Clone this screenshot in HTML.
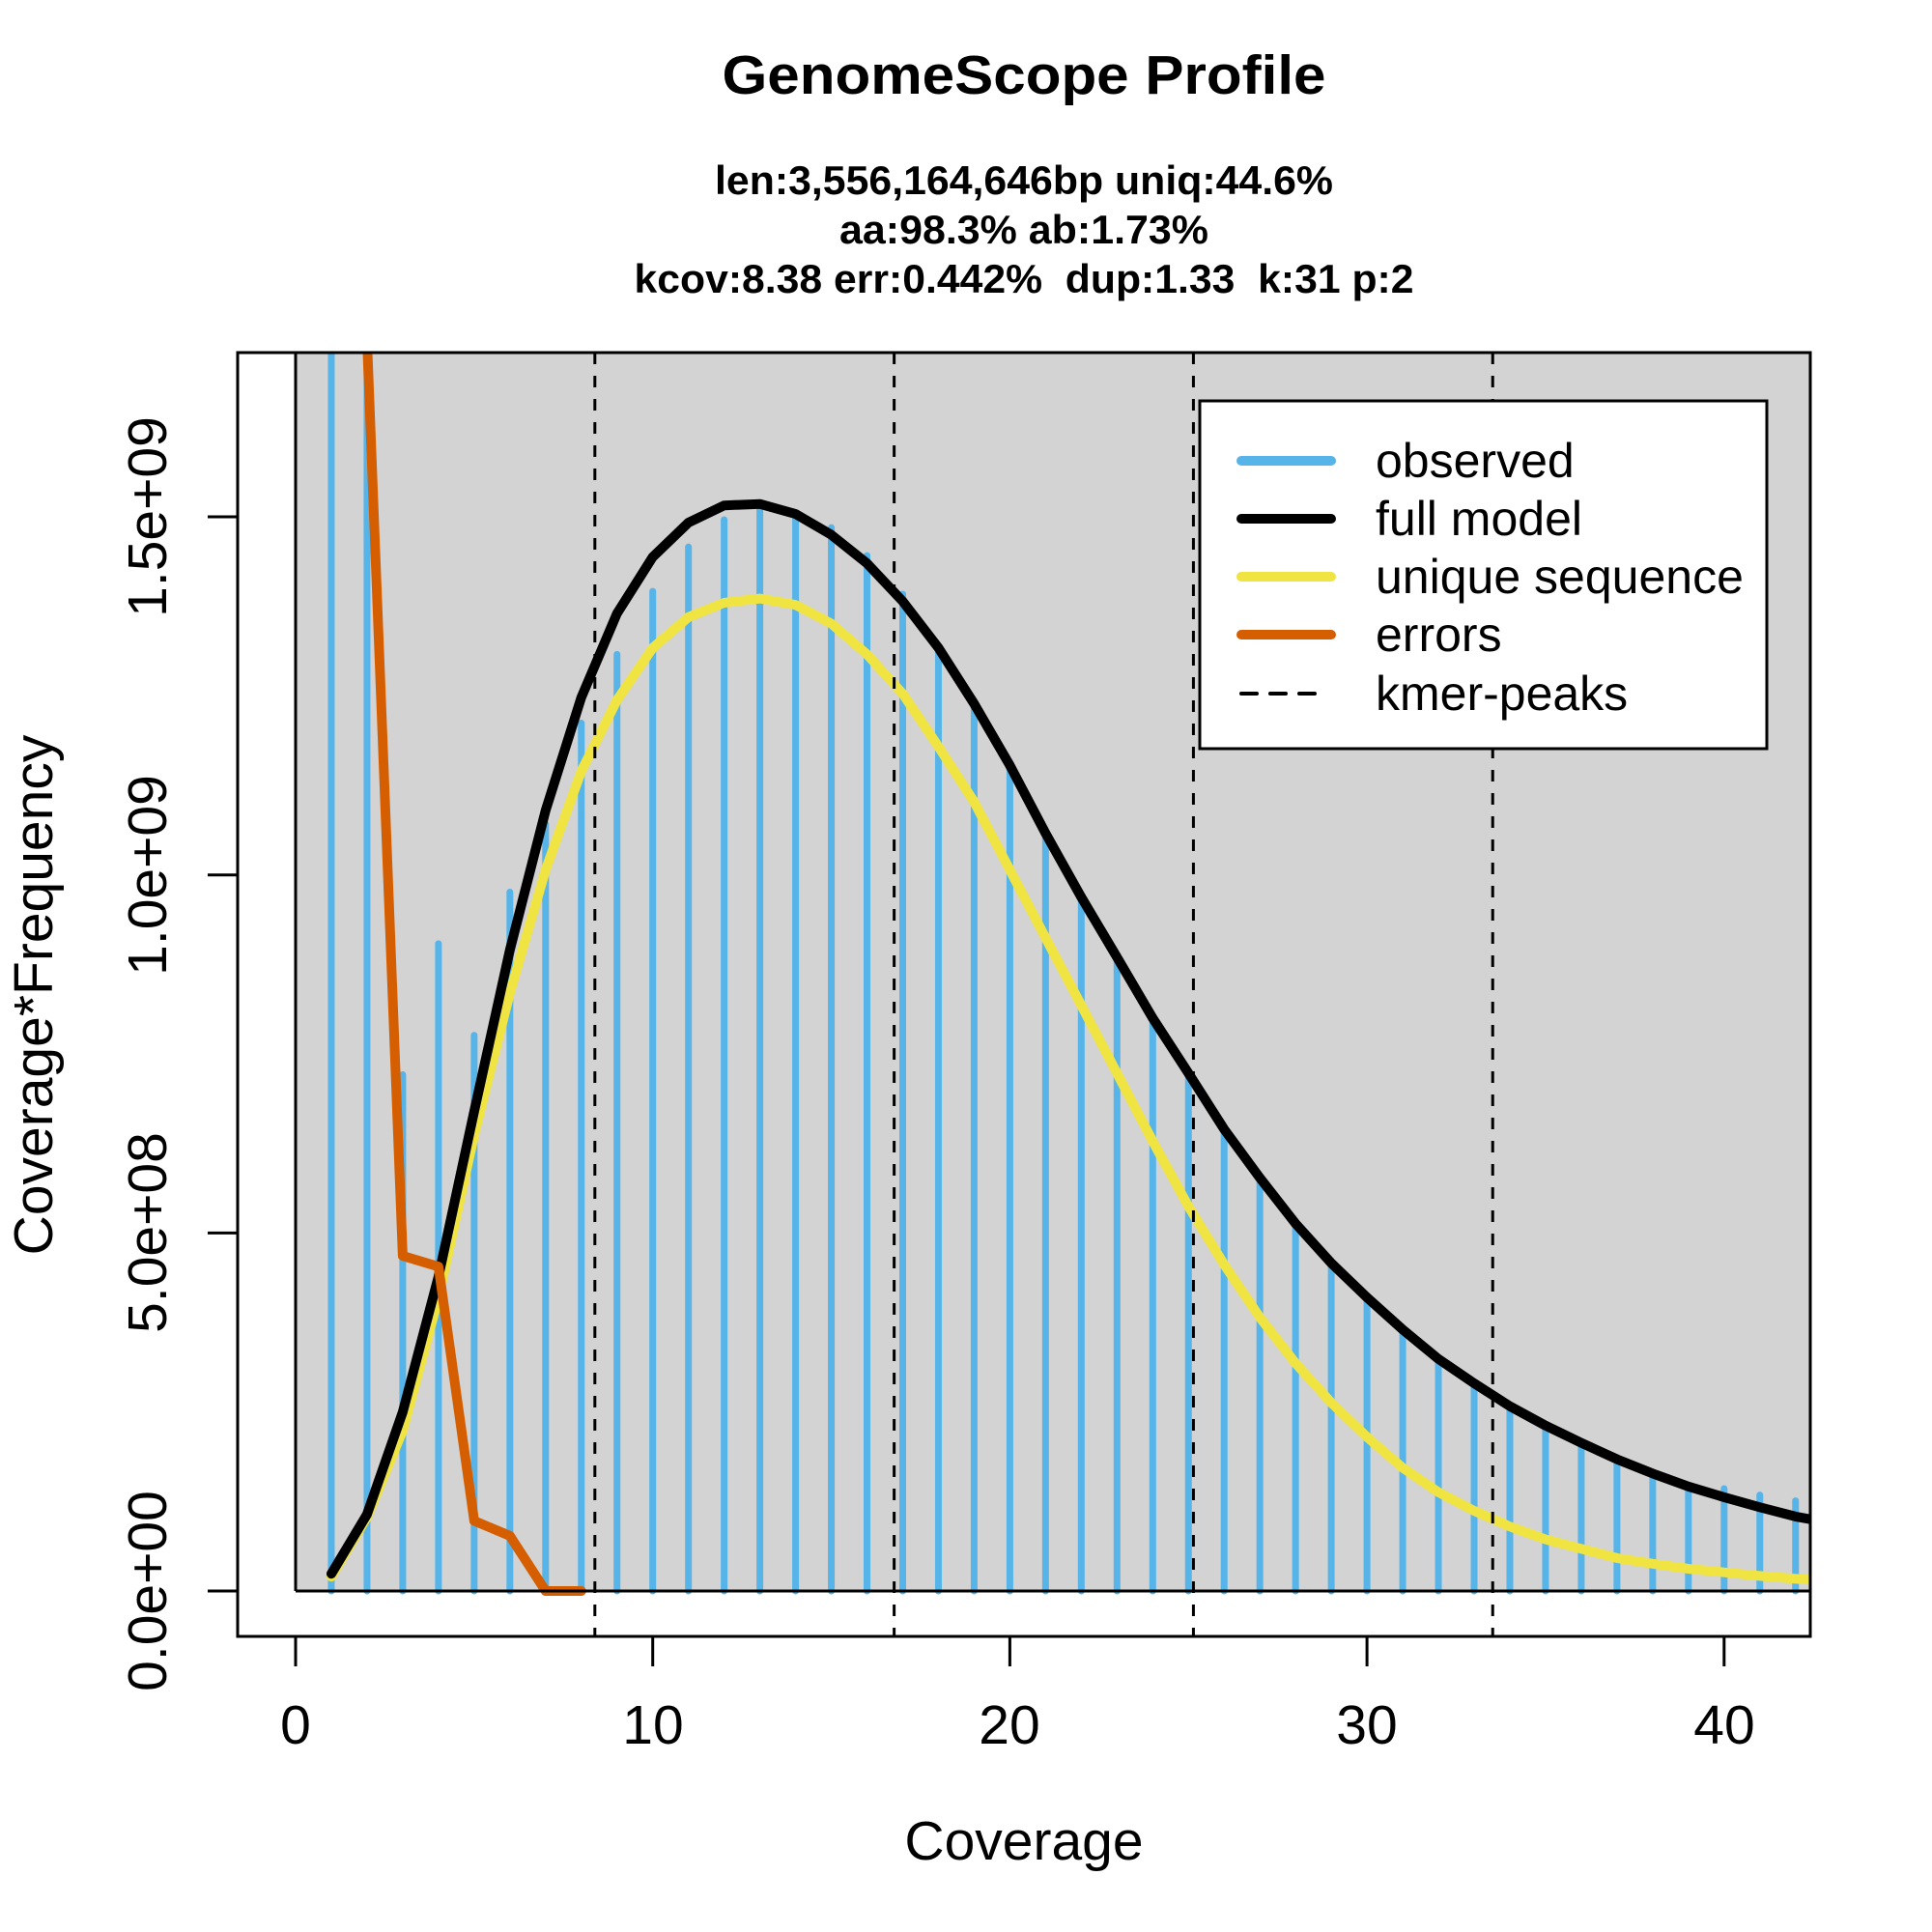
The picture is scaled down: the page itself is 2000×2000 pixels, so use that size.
<!DOCTYPE html>
<html><head><meta charset="utf-8"><style>
html,body{margin:0;padding:0;background:#fff}
svg{display:block}
text{font-family:"Liberation Sans",Arial,sans-serif;fill:#000;white-space:pre}
</style></head><body>
<svg id="s" width="2000" height="2000" viewBox="0 0 2000 2000" xmlns="http://www.w3.org/2000/svg" xml:space="preserve">
<defs><clipPath id="c"><rect x="246" y="365" width="1628" height="1329"/></clipPath></defs>
<rect x="0" y="0" width="2000" height="2000" fill="#fff"/>
<rect x="306" y="365" width="1568" height="1282" fill="#d3d3d3"/>
<g id="plot" clip-path="url(#c)"></g>
<line x1="306" y1="365" x2="306" y2="1647" stroke="#000" stroke-width="3"/>
<line x1="306" y1="1647" x2="1874" y2="1647" stroke="#000" stroke-width="3"/>
<rect x="1242" y="415" width="587" height="360" fill="#fff" stroke="#000" stroke-width="3"/>
<g stroke-width="10" stroke-linecap="round">
<line x1="1285" y1="477" x2="1378" y2="477" stroke="#56b4e9"/>
<line x1="1285" y1="537" x2="1378" y2="537" stroke="#000"/>
<line x1="1285" y1="597" x2="1378" y2="597" stroke="#f0e442"/>
<line x1="1285" y1="657" x2="1378" y2="657" stroke="#d55e00"/>
</g>
<line x1="1285" y1="718" x2="1370" y2="718" stroke="#000" stroke-width="4" stroke-dasharray="16,14" stroke-linecap="round"/>
<g font-size="50">
<text x="1424" y="494">observed</text>
<text x="1424" y="554">full model</text>
<text x="1424" y="614">unique sequence</text>
<text x="1424" y="674">errors</text>
<text x="1424" y="735">kmer-peaks</text>
</g>
<rect x="246" y="365" width="1628" height="1329" fill="none" stroke="#000" stroke-width="3"/>
<g id="ticks" stroke="#000" stroke-width="3"></g>
<g font-size="57" text-anchor="middle">
<text x="306" y="1805">0</text>
<text x="676" y="1805">10</text>
<text x="1045" y="1805">20</text>
<text x="1415" y="1805">30</text>
<text x="1785" y="1805">40</text>
<text transform="translate(172,1647) rotate(-90)">0.0e+00</text>
<text transform="translate(172,1276) rotate(-90)">5.0e+08</text>
<text transform="translate(172,906) rotate(-90)">1.0e+09</text>
<text transform="translate(172,535) rotate(-90)">1.5e+09</text>
<text x="1060" y="1925">Coverage</text>
<text transform="translate(54,1030) rotate(-90)">Coverage*Frequency</text>
</g>
<g font-weight="bold" text-anchor="middle">
<text x="1060" y="97" font-size="57" textLength="625" lengthAdjust="spacingAndGlyphs">GenomeScope Profile</text>
<text x="1060" y="201" font-size="42" textLength="640" lengthAdjust="spacingAndGlyphs">len:3,556,164,646bp uniq:44.6%</text>
<text x="1060" y="252" font-size="42" textLength="382" lengthAdjust="spacingAndGlyphs">aa:98.3% ab:1.73%</text>
<text x="1060" y="303" font-size="42" textLength="807" lengthAdjust="spacingAndGlyphs">kcov:8.38 err:0.442%  dup:1.33  k:31 p:2</text>
</g>
</svg>
<script>
var X=function(v){return 306+36.97*v},Y=function(v){return 1647-741.3*v};
var NS="http://www.w3.org/2000/svg",g=document.getElementById("plot"),tk=document.getElementById("ticks");
function el(p,t,a){var e=document.createElementNS(NS,t);for(var k in a)e.setAttribute(k,a[k]);p.appendChild(e);return e;}
var obs=[3,3,0.721,0.904,0.776,0.976,1.071,1.212,1.308,1.396,1.458,1.496,1.511,1.501,1.485,1.446,1.392,1.318,1.238,1.150,1.060,0.969,0.885,0.800,0.723,0.647,0.577,0.515,0.456,0.406,0.361,0.322,0.284,0.253,0.227,0.203,0.181,0.162,0.146,0.143,0.134,0.126];
for(var i=0;i<obs.length;i++){var x=X(i+1);el(g,"line",{x1:x,y1:Y(0),x2:x,y2:Y(obs[i]),stroke:"#56b4e9","stroke-width":7,"stroke-linecap":"round"});}
var full=[0.024,0.107,0.25,0.439,0.67,0.895,1.09,1.248,1.365,1.444,1.492,1.516,1.518,1.504,1.475,1.435,1.382,1.317,1.239,1.153,1.058,0.969,0.885,0.80,0.723,0.645,0.577,0.513,0.458,0.41,0.365,0.324,0.29,0.258,0.231,0.207,0.184,0.164,0.146,0.131,0.117,0.104,0.095];
var uni=[0.02,0.103,0.224,0.41,0.637,0.835,1.007,1.145,1.244,1.317,1.36,1.38,1.386,1.377,1.351,1.308,1.253,1.179,1.102,1.007,0.912,0.818,0.723,0.628,0.537,0.456,0.382,0.318,0.263,0.215,0.172,0.138,0.112,0.09,0.072,0.059,0.046,0.038,0.031,0.026,0.021,0.017,0.014];
var err=[20,1.75,0.468,0.453,0.098,0.077,0,0];
function path(arr,col){var d="";for(var i=0;i<arr.length;i++){d+=(i?"L":"M")+X(i+1).toFixed(1)+","+Y(arr[i]).toFixed(1);}el(g,"path",{d:d,fill:"none",stroke:col,"stroke-width":10,"stroke-linejoin":"round","stroke-linecap":"round"});}
path(uni,"#f0e442");path(full,"#000");path(err,"#d55e00");
[8.38,16.76,25.14,33.52].forEach(function(v){el(g,"line",{x1:X(v),y1:365,x2:X(v),y2:1694,stroke:"#000","stroke-width":3,"stroke-dasharray":"12,12"});});
[0,10,20,30,40].forEach(function(v){el(tk,"line",{x1:X(v),y1:1694,x2:X(v),y2:1725});});
[0,0.5,1,1.5].forEach(function(v){el(tk,"line",{x1:215,y1:Y(v),x2:246,y2:Y(v)});});
</script>
</body></html>
